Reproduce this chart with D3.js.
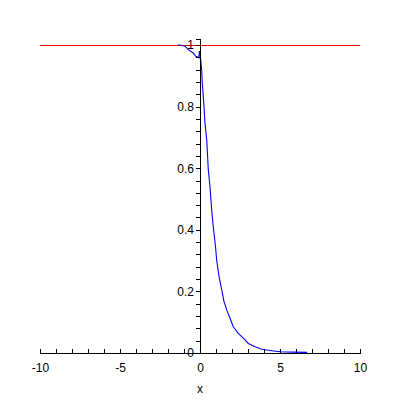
<!DOCTYPE html>
<html>
<head>
<meta charset="utf-8">
<script src="https://cdn.jsdelivr.net/npm/d3@7"></script>
<style>
  body { margin: 0; background: #fff; }
  .axis text { font-family: "Liberation Sans", Arial, sans-serif; font-size: 12px; fill: #000; }
  .axis path, .axis line { stroke: #000; shape-rendering: crispEdges; }
</style>
</head>
<body>
<svg id="chart" width="400" height="400"></svg>
<script>
// curve
var curveX = [-1.4, -1.25, -0.94, -0.73, -0.42, -0.27, -0.14, -0.07, -0.04, 0.0, 0.106, 0.144, 0.25, 0.31, 0.42, 0.52, 0.625, 0.73, 0.83, 0.98,
  1.04, 1.19, 1.36, 1.5, 1.67, 1.875, 2.08, 2.39, 2.71, 3.02, 3.44, 3.86, 4.48, 5.0, 5.8, 6.7];
var curveY = [1.0, 1.0, 0.996, 0.985, 0.974, 0.963, 0.961, 0.958, 0.98, 0.975, 0.919, 0.876, 0.80, 0.747, 0.692, 0.594, 0.54, 0.464, 0.41, 0.34,
  0.302, 0.248, 0.205, 0.167, 0.14, 0.113, 0.085, 0.064, 0.048, 0.031, 0.020, 0.012, 0.0075, 0.004, 0.003, 0.002];

// flat line y = 1
var flatX = [-10, 10];
var flatY = [1, 1];

var xTicks = d3.range(-10, 11, 1);
var yTicks = d3.range(0, 26).map(function(i) { return +(i * 0.04).toFixed(2); });
var xLabels = [-10, -5, 0, 5, 10];

var svg = d3.select("#chart");

var x = d3.scaleLinear().domain([-10, 10]).range([40, 360]);
var y = d3.scaleLinear().domain([0, 1.02]).range([353, 353 - 1.02 * 308]);

var line = d3.line()
  .x(function(d) { return x(d[0]); })
  .y(function(d) { return y(d[1]); });

svg.append("path")
  .datum(d3.zip(flatX, flatY))
  .attr("fill", "none")
  .attr("stroke", "#ff0000")
  .attr("stroke-width", 1)
  .attr("transform", "translate(0,0.5)")
  .attr("shape-rendering", "crispEdges")
  .attr("d", line);

svg.append("path")
  .datum(d3.zip(curveX, curveY))
  .attr("fill", "none")
  .attr("stroke", "#0000ff")
  .attr("stroke-width", 1.1)
  .attr("d", line);

svg.append("g")
  .attr("class", "axis")
  .attr("transform", "translate(0," + y(0) + ")")
  .call(d3.axisBottom(x)
    .tickValues(xTicks)
    .tickSizeInner(-4)
    .tickSizeOuter(-4)
    .tickPadding(10)
    .tickFormat(function(d) { return xLabels.indexOf(d) >= 0 ? String(d) : ""; }));

svg.append("g")
  .attr("class", "axis")
  .attr("transform", "translate(" + x(0) + ",0)")
  .call(d3.axisLeft(y)
    .tickValues(yTicks)
    .tickSizeInner(4)
    .tickSizeOuter(4)
    .tickPadding(2)
    .tickFormat(function(d) {
      return Math.abs(d * 5 - Math.round(d * 5)) < 1e-6 ? String(+d.toFixed(1)) : "";
    }));

svg.append("text")
  .attr("x", 200)
  .attr("y", 393)
  .attr("text-anchor", "middle")
  .style("font-family", "Liberation Sans, Arial, sans-serif")
  .style("font-size", "12px")
  .text("x");
</script>
</body>
</html>
